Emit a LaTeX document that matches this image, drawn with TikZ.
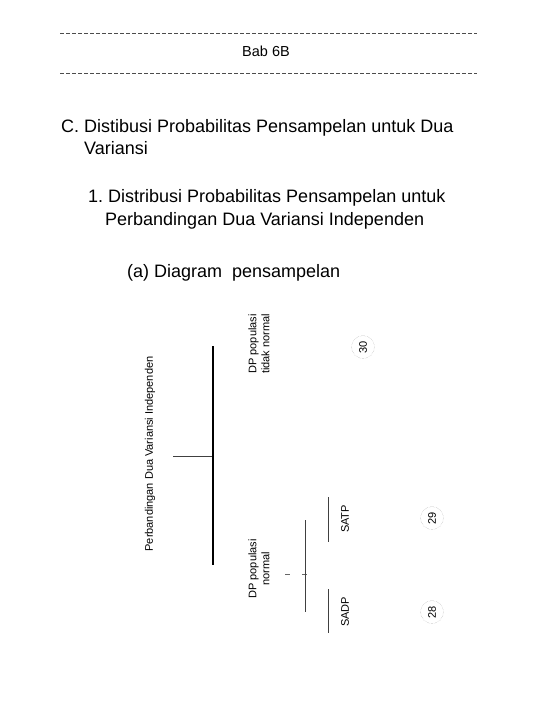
\documentclass[tikz,border=0pt]{standalone}
\usepackage{fontspec}
\setmainfont{Liberation Sans}
\frenchspacing
\begin{document}
\begin{tikzpicture}[x=1pt,y=1pt,
  head/.style={font=\fontsize{18}{22}\selectfont, anchor=base west, inner sep=0pt},
  lab/.style={font=\fontsize{11}{13}\selectfont, rotate=90, align=center, inner sep=0pt},
  num/.style={circle, draw=gray!70, densely dotted, minimum size=23pt, inner sep=0pt, rotate=90, font=\fontsize{11}{13}\selectfont},
  sepline/.style={draw=black!70, line width=0.6pt, dash pattern=on 4pt off 2pt},
  treeline/.style={draw=black!75, line width=0.8pt},
  mainline/.style={draw=black, line width=1.2pt}]
\useasboundingbox (0,0) rectangle (540,-720);
% header
\coordinate (s1a) at (60,-33); \coordinate (s1b) at (477,-33);
\coordinate (s2a) at (60,-73); \coordinate (s2b) at (477,-73);
\draw[sepline] (s1a) -- (s1b);
\draw[sepline] (s2a) -- (s2b);
\node[font=\fontsize{14.5}{16}\selectfont] (bab) at (266,-51) {Bab 6B};
% headings
\node[head] (c1) at (61,-132) {C. Distibusi Probabilitas Pensampelan untuk Dua};
\node[head] (c2) at (84,-154) {Variansi};
\node[head] (d1) at (88,-202) {1. Distribusi Probabilitas Pensampelan untuk};
\node[head] (d2) at (105,-225) {Perbandingan Dua Variansi Independen};
\node[head] (a1) at (127,-277) {(a) Diagram\ \ pensampelan};
% diagram
\node[lab] (root) at (150,-454) {Perbandingan Dua Variansi Independen};
\coordinate (h0) at (173,-456);
\coordinate (h1) at (213,-456);
\coordinate (v1t) at (213,-346);
\coordinate (v1b) at (213,-565);
\draw[treeline] (h0) -- (h1);
\draw[mainline] (v1t) -- (v1b);
\node[lab] (tn) at (259,-344) {DP populasi\\tidak normal};
\node[num] (n30) at (363,-347) {30};
\node[lab] (pn) at (259,-569) {DP populasi\\normal};
\coordinate (t1a) at (285,-574); \coordinate (t1b) at (290,-574);
\coordinate (t2a) at (302,-574); \coordinate (t2b) at (307,-574);
\draw[draw=black!60, line width=0.6pt] (t1a) -- (t1b);
\draw[draw=black!60, line width=0.6pt] (t2a) -- (t2b);
\coordinate (v2t) at (305,-520); \coordinate (v2b) at (305,-612);
\draw[treeline] (v2t) -- (v2b);
\coordinate (v3t) at (328,-497); \coordinate (v3b) at (328,-542);
\coordinate (v4t) at (328,-589); \coordinate (v4b) at (328,-633);
\draw[treeline] (v3t) -- (v3b);
\draw[treeline] (v4t) -- (v4b);
\node[lab] (satp) at (345,-519) {SATP};
\node[lab] (sadp) at (345,-612) {SADP};
\node[num] (n29) at (432,-518) {29};
\node[num] (n28) at (432,-612) {28};
\end{tikzpicture}
\end{document}
